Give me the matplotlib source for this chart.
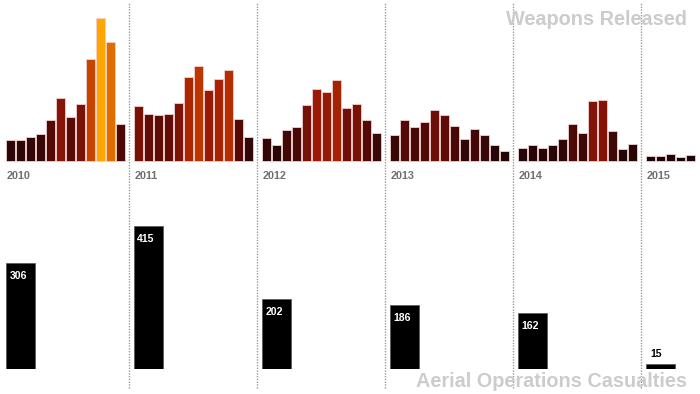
import numpy as np
import matplotlib
matplotlib.use("Agg")
import matplotlib.pyplot as plt
from matplotlib.colors import LinearSegmentedColormap

plt.rcParams['font.family'] = ['Liberation Sans', 'DejaVu Sans']

# monthly weapons released
years = ['2010', '2011', '2012', '2013', '2014', '2015']
w2010 = [147, 145, 166, 187, 285, 439, 310, 397, 712, 1000, 833, 259]
w2011 = [387, 327, 320, 327, 408, 586, 667, 495, 572, 635, 294, 166]
w2012 = [161, 110, 217, 240, 390, 502, 481, 565, 369, 397, 285, 194]
w2013 = [184, 285, 238, 271, 355, 322, 245, 152, 222, 180, 110, 70]
w2014 = [89, 110, 89, 110, 156, 261, 196, 420, 427, 208, 82, 119]
w2015 = [37, 35, 49, 26, 40]
weapons = [w2010, w2011, w2012, w2013, w2014, w2015]

# yearly aerial operations casualties
casualties = [306, 415, 202, 186, 162, 15]

cmap = LinearSegmentedColormap.from_list('heat', [
    (0.0, '#180404'), (0.15, '#2e0707'), (0.3, '#580a06'), (0.4, '#7a1207'),
    (0.5, '#9a1a06'), (0.6, '#ae2600'), (0.7, '#c43e00'), (0.83, '#e06a00'),
    (1.0, '#ffa500')])

year_w = 12.8
xlim = (-0.6, 69.4)

fig = plt.figure(figsize=(7, 3.94), dpi=100)

# background axes for separators
bg = fig.add_axes([0, 0, 1, 1])
bg.set_xlim(*xlim)
bg.set_ylim(0, 394)
bg.axis('off')
for i in range(1, len(years)):
    bg.plot([year_w * i - 0.5] * 2, [6, 392], color='#999999', lw=1,
            dashes=(1, 1))

# top: weapons released
top = fig.add_axes([0, 233 / 394, 1, 161 / 394])
top.set_xlim(*xlim)
top.set_ylim(0, 1127)
top.axis('off')
top.patch.set_alpha(0)
for i, vals in enumerate(weapons):
    xs = year_w * i + np.arange(len(vals))
    top.bar(xs, vals, width=0.87, align='edge',
            color=cmap(np.array(vals) / 1000), edgecolor='#f2d0d0',
            linewidth=0.6, clip_on=False)
    top.annotate(years[i], xy=(year_w * i, 0), xytext=(0.3, -13),
                 textcoords='offset points', ha='left', va='baseline',
                 fontsize=7.8, fontweight='bold', color='#707070')

# bottom: casualties
bot = fig.add_axes([0, 25 / 394, 1, 179 / 394])
bot.set_xlim(*xlim)
bot.set_ylim(0, 519)
bot.axis('off')
bot.patch.set_alpha(0)
cx = year_w * np.arange(len(casualties))
bot.bar(cx, casualties, width=2.85, align='edge', color='black',
        edgecolor='#555555', linewidth=0.5)
for x, v in zip(cx, casualties):
    if v > 50:
        bot.annotate(str(v), xy=(x, v), xytext=(2.4, -11.5),
                     textcoords='offset points', ha='left', va='baseline',
                     fontsize=7.6, fontweight='bold', color='white')
    else:
        bot.annotate(str(v), xy=(x, v), xytext=(3, 4.6),
                     textcoords='offset points', ha='left', va='baseline',
                     fontsize=7.6, fontweight='bold', color='black')

fig.text(687 / 700, 1 - 25 / 394, 'Weapons Released', ha='right',
         va='baseline', fontsize=14.3, fontweight='bold', color='#cccccc')
fig.text(687 / 700, 7 / 394, 'Aerial Operations Casualties', ha='right',
         va='baseline', fontsize=14.3, fontweight='bold', color='#cccccc')

fig.savefig('out.png', dpi=100)
